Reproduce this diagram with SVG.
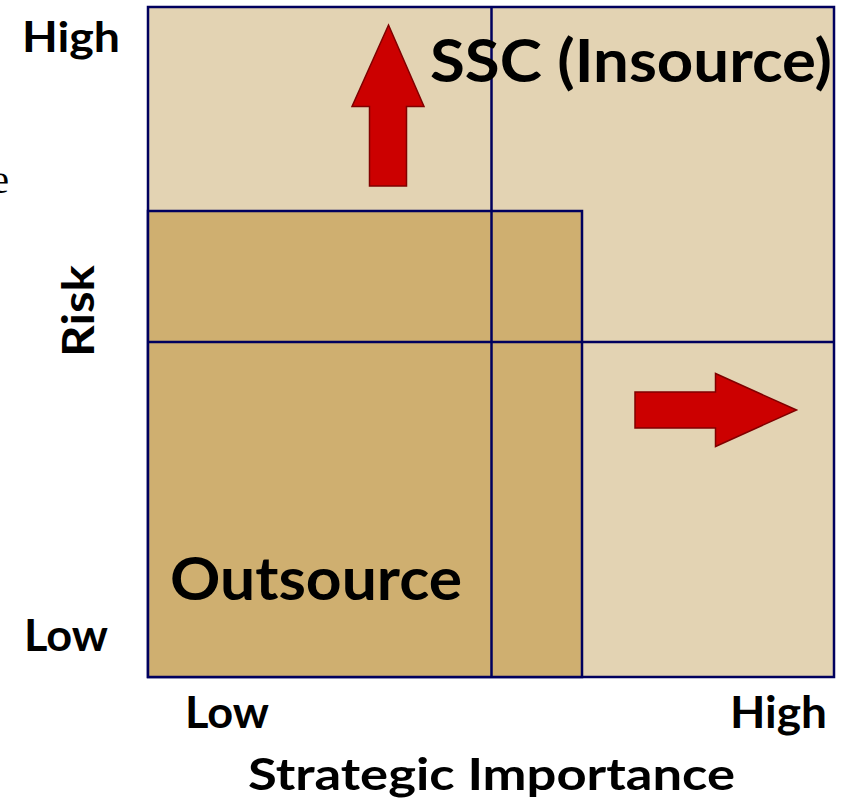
<svg xmlns="http://www.w3.org/2000/svg" width="845" height="808" viewBox="0 0 845 808">
<style>
.lbl{font-family:Lato,"Open Sans","Liberation Sans",sans-serif;font-weight:bold;fill:#000}
.grid{stroke:#00005e;stroke-width:2.5;fill:none}
.arrow{fill:#cc0000;stroke:#800000;stroke-width:1.5}
</style>
<rect width="845" height="808" fill="#fff"/>
<g id="matrix">
<rect x="148" y="7" width="686" height="670" fill="#e3d3b3" stroke="#00005e" stroke-width="2.5"/>
<rect x="148" y="211" width="434" height="466" fill="#cfaf70" stroke="#00005e" stroke-width="2.5"/>
</g>
<g id="connectors">
<line class="grid" x1="491.5" y1="7" x2="491.5" y2="677"/>
<line class="grid" x1="148" y1="342" x2="834" y2="342"/>
</g>
<g id="arrow-up">
<polygon class="arrow" points="388.5,25 424,106.5 406.5,106.5 406.5,186 369.5,186 369.5,106.5 352,106.5"/>
</g>
<g id="arrow-right">
<polygon class="arrow" points="796.5,410 715.5,373.5 715.5,392 635,392 635,428 715.5,428 715.5,446.5"/>
</g>
<g id="labels">
<text class="lbl" x="430" y="82" font-size="60" textLength="402" lengthAdjust="spacingAndGlyphs">SSC (Insource)</text>
<text class="lbl" x="170" y="600" font-size="60" textLength="292" lengthAdjust="spacingAndGlyphs">Outsource</text>
<text class="lbl" x="22" y="52" font-size="42" textLength="98" lengthAdjust="spacingAndGlyphs">High</text>
<text class="lbl" x="24" y="651" font-size="44" textLength="84" lengthAdjust="spacingAndGlyphs">Low</text>
<text class="lbl" x="185" y="728" font-size="44" textLength="84" lengthAdjust="spacingAndGlyphs">Low</text>
<text class="lbl" x="730" y="728" font-size="44" textLength="97" lengthAdjust="spacingAndGlyphs">High</text>
<text class="lbl" x="248" y="790" font-size="44" textLength="487" lengthAdjust="spacingAndGlyphs">Strategic Importance</text>
<text class="lbl" transform="translate(94,357) rotate(-90)" x="0" y="0" font-size="44" textLength="92" lengthAdjust="spacingAndGlyphs">Risk</text>
<text x="9" y="193" font-family="'Liberation Serif',serif" font-size="40" text-anchor="end" fill="#000">e</text>
</g>
</svg>
